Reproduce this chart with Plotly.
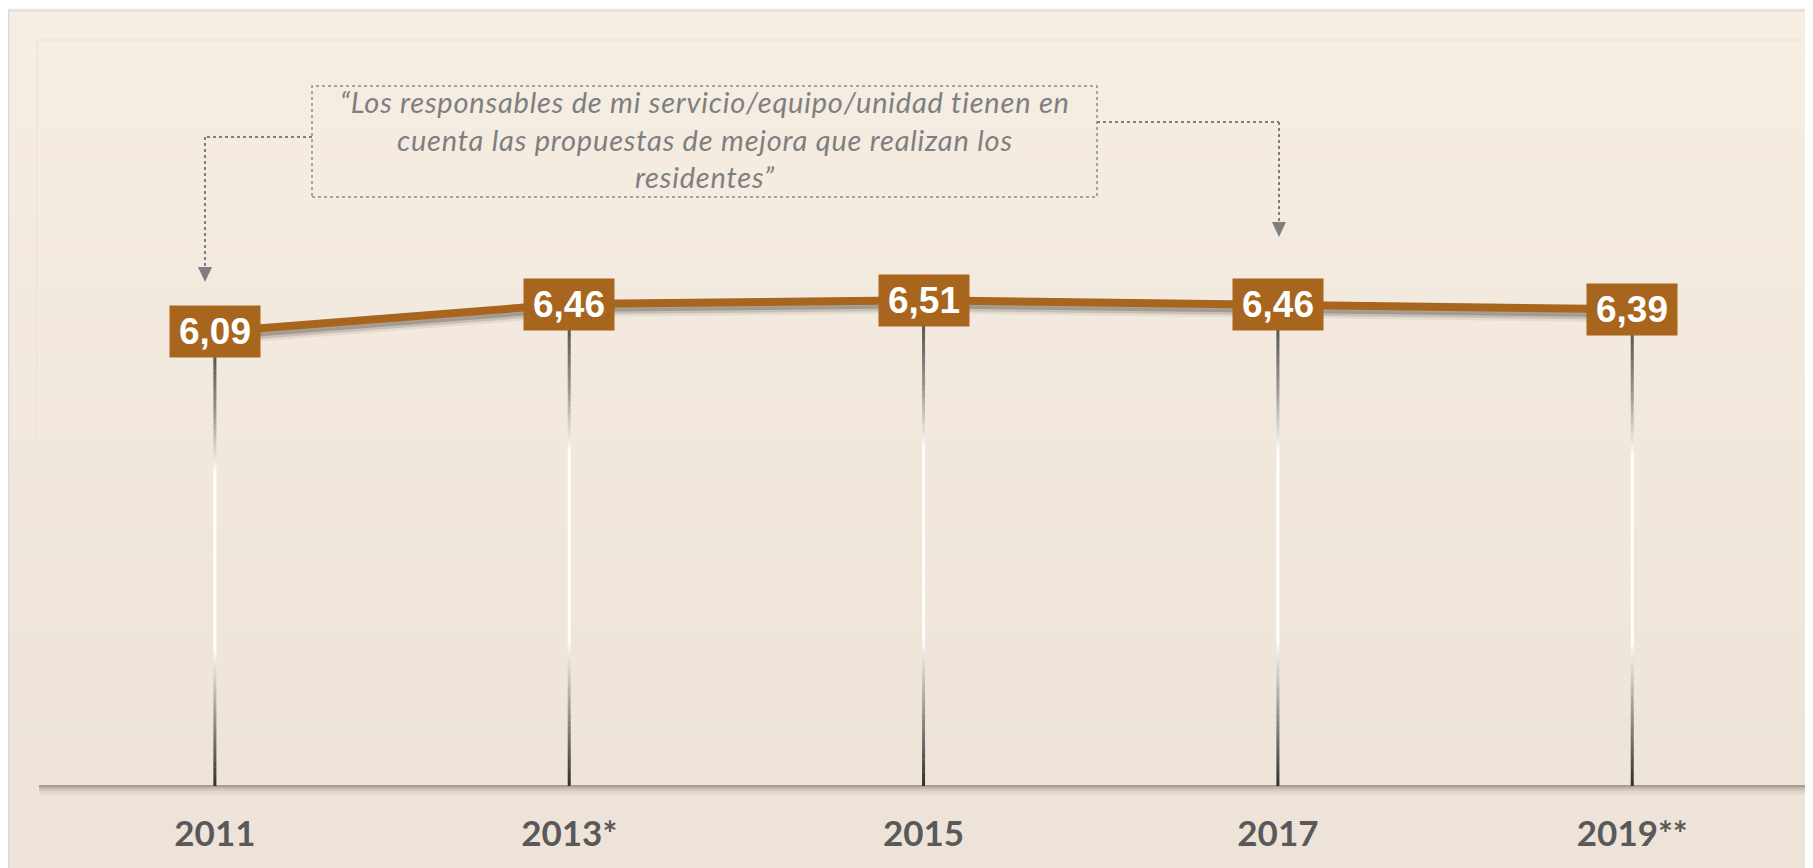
import plotly.graph_objects as go

# ---------------- data ----------------
categories = ["2011", "2013*", "2015", "2017", "2019**"]
values = [6.09, 6.46, 6.51, 6.46, 6.39]
value_labels = ["6,09", "6,46", "6,51", "6,46", "6,39"]
quote_lines = [
    "“Los responsables de mi servicio/equipo/unidad tienen en",
    "cuenta las propuestas de mejora que realizan los",
    "residentes”",
]

# ---------------- layout geometry (screen px; page body has an 8px margin) ----------------
SCREEN_W, SCREEN_H = 1813, 868
OFF = 8
W, H = SCREEN_W - OFF, SCREEN_H - OFF
PLOT_L, PLOT_R, PLOT_T, PLOT_B = 37, 1808, 40, 786  # screen px
ML, MR, MT = PLOT_L - OFF, SCREEN_W - PLOT_R, PLOT_T - OFF
MB = SCREEN_H - PLOT_B
PW = PLOT_R - PLOT_L
PH = PLOT_B - PLOT_T
Y_MAX = 10
X_RANGE = [-0.502, 4.496]
PX_PER_UNIT = PH / Y_MAX

BROWN = "#A7651D"
GREY = "#7f7f7f"


def px_x(p):
    return (p - PLOT_L) / PW


def px_y(p):
    return (PLOT_B - p) / PH


def lerp(c1, c2, t):
    return tuple(int(round(a + (b - a) * t)) for a, b in zip(c1, c2))


def grad(stops, t):
    for (t0, c0), (t1, c1) in zip(stops[:-1], stops[1:]):
        if t0 <= t <= t1:
            return lerp(c0, c1, (t - t0) / (t1 - t0) if t1 > t0 else 0)
    return stops[-1][1]


xs = list(range(len(categories)))
shapes = []

# panel background gradient (bands)
bg_top, bg_bot = (246, 237, 227), (237, 227, 216)
n_bands = 50
y_start, y_end = 11, SCREEN_H
for k in range(n_bands):
    p0 = y_start + (y_end - y_start) * k / n_bands
    p1 = y_start + (y_end - y_start) * (k + 1) / n_bands + 1
    c = lerp(bg_top, bg_bot, k / (n_bands - 1))
    shapes.append(dict(type="rect", xref="paper", yref="paper", layer="below",
                       x0=px_x(OFF), x1=px_x(SCREEN_W + 2), y0=px_y(p0), y1=px_y(p1),
                       line=dict(width=0), fillcolor="rgb(%d,%d,%d)" % c))
# panel border (top / left)
shapes.append(dict(type="line", xref="paper", yref="paper", layer="below",
                   x0=px_x(OFF), x1=px_x(SCREEN_W + 2), y0=px_y(10.5), y1=px_y(10.5),
                   line=dict(color="#d8d8d8", width=1.5)))
shapes.append(dict(type="line", xref="paper", yref="paper", layer="below",
                   x0=px_x(OFF + 0.5), x1=px_x(OFF + 0.5), y0=px_y(10.5), y1=px_y(SCREEN_H + 2),
                   line=dict(color="#d8d8d8", width=1.5)))

# inner plot-area frame, faint
shapes.append(dict(type="rect", xref="paper", yref="paper", layer="below",
                   x0=0, x1=1, y0=0, y1=1, line=dict(color="#ece2d6", width=1)))
# bottom & right shadow of inner frame
for k, a in enumerate([0.55, 0.35, 0.2, 0.1, 0.05]):
    shapes.append(dict(type="line", xref="paper", yref="paper", layer="below",
                       x0=px_x(PLOT_L + 2), x1=px_x(PLOT_R + k), y0=px_y(PLOT_B + k * 2), y1=px_y(PLOT_B + k * 2),
                       line=dict(color="rgba(110,100,90,%.2f)" % a, width=2)))
    shapes.append(dict(type="line", xref="paper", yref="paper", layer="below",
                       x0=px_x(PLOT_R + k * 1.5), x1=px_x(PLOT_R + k * 1.5), y0=px_y(42), y1=px_y(PLOT_B + k * 2),
                       line=dict(color="rgba(110,100,90,%.2f)" % a, width=1.5)))

# vertical gradient drop lines (from bottom of value box to axis)
BOX_W, BOX_H = 90, 51
stops = [(0.0, (85, 85, 85)), (0.13, (150, 150, 150)), (0.27, (255, 255, 255)),
         (0.68, (255, 255, 255)), (0.84, (150, 150, 150)), (1.0, (45, 45, 45))]
n_seg = 70
for x, v in zip(xs, values):
    top = v - (BOX_H / 2) / PX_PER_UNIT
    for k in range(n_seg):
        ya = top - top * k / n_seg
        yb = top - top * (k + 1) / n_seg
        c = grad(stops, (k + 0.5) / n_seg)
        shapes.append(dict(type="line", xref="x", yref="y", layer="below",
                           x0=x, x1=x, y0=ya + 0.004, y1=yb,
                           line=dict(color="rgb(%d,%d,%d)" % c, width=3)))

# callout box & connectors
box_l, box_r, box_t, box_b = 312, 1097, 86, 197
shapes.append(dict(type="rect", xref="paper", yref="paper",
                   x0=px_x(box_l), x1=px_x(box_r), y0=px_y(box_b), y1=px_y(box_t),
                   line=dict(color="#8c8c8c", width=1.5, dash="dot")))
conn = [((box_l, 137), (205, 137)), ((205, 137), (205, 268)),
        ((box_r, 122), (1279, 122)), ((1279, 122), (1279, 223))]
for (a, b) in conn:
    shapes.append(dict(type="line", xref="paper", yref="paper",
                       x0=px_x(a[0]), y0=px_y(a[1]), x1=px_x(b[0]), y1=px_y(b[1]),
                       line=dict(color=GREY, width=2, dash="dot")))
for cx, tip in [(205, 282), (1279, 237)]:
    shapes.append(dict(type="path", xref="paper", yref="paper",
                       path="M %f,%f L %f,%f L %f,%f Z" % (
                           px_x(cx - 7), px_y(tip - 15), px_x(cx + 7), px_y(tip - 15), px_x(cx), px_y(tip)),
                       fillcolor=GREY, line=dict(width=0)))

fig = go.Figure()
# soft shadow beneath the line
for off, a, w in [(9, 0.10, 8), (7, 0.20, 7), (5, 0.35, 6)]:
    fig.add_trace(go.Scatter(x=xs, y=[v - off / PX_PER_UNIT for v in values], mode="lines",
                             line=dict(color="rgba(95,85,75,%.2f)" % a, width=w),
                             hoverinfo="skip", showlegend=False))
fig.add_trace(go.Scatter(x=xs, y=values, mode="lines",
                         line=dict(color=BROWN, width=8), showlegend=False))

annotations = []
for x, v, lab in zip(xs, values, value_labels):
    annotations.append(dict(x=x, y=v, xref="x", yref="y", text="<b>%s</b>" % lab, showarrow=False,
                            width=BOX_W, height=BOX_H, bgcolor=BROWN, borderpad=0,
                            font=dict(family="Liberation Sans, Arial", size=37, color="white"),
                            align="center", valign="middle"))
QUOTE_SIZE = 29
quote_text = "<br>".join('<span style="letter-spacing:0.8px">%s</span>' % ln for ln in quote_lines)
annotations.append(dict(x=px_x((box_l + box_r) / 2), y=px_y(139), xref="paper", yref="paper",
                        text=quote_text, showarrow=False, align="center",
                        xanchor="center", yanchor="middle",
                        font=dict(family="Lato", size=QUOTE_SIZE, color="#7f7f7f", style="italic")))

fig.update_layout(
    width=W, height=H,
    margin=dict(l=ML, r=MR, t=MT, b=MB, pad=0),
    paper_bgcolor="#f3f3f3", plot_bgcolor="rgba(0,0,0,0)",
    shapes=shapes, annotations=annotations, showlegend=False,
    xaxis=dict(range=X_RANGE, tickvals=xs, ticktext=["<b>%s</b>" % c for c in categories],
               showgrid=False, zeroline=False, showline=False, ticks="",
               ticklabelstandoff=24, fixedrange=True,
               tickfont=dict(family="Lato", size=35, color="#595959")),
    yaxis=dict(range=[0, Y_MAX], visible=False, fixedrange=True),
)

fig.write_html("out.html")
